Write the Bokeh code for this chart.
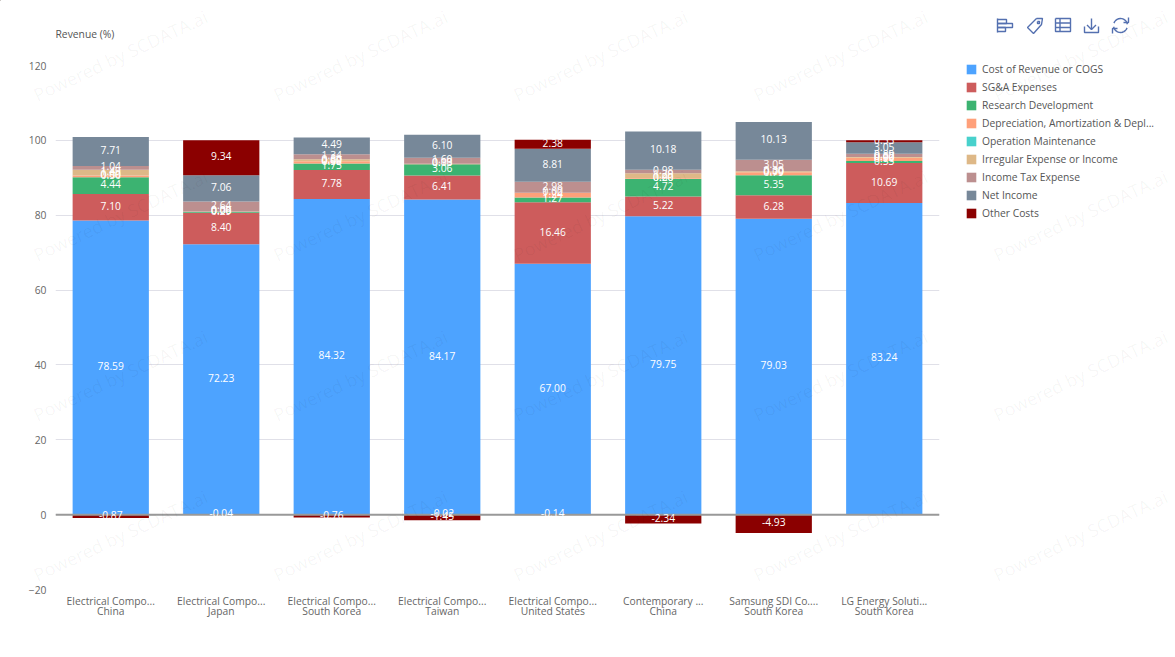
import numpy as np
from bokeh.plotting import figure
from bokeh.layouts import column
from bokeh.models import FactorRange, Range1d, FixedTicker, Span, Legend, LegendItem
from bokeh.core.properties import value
from bokeh.embed import file_html
from bokeh.resources import INLINE

FONT = "Open Sans"
companies = ["Electrical Compo...\nChina", "Electrical Compo...\nJapan", "Electrical Compo...\nSouth Korea",
             "Electrical Compo...\nTaiwan", "Electrical Compo...\nUnited States", "Contemporary ...\nChina",
             "Samsung SDI Co....\nSouth Korea", "LG Energy Soluti...\nSouth Korea"]
series_names = ["Cost of Revenue or COGS", "SG&A Expenses", "Research Development",
                "Depreciation, Amortization & Depl...", "Operation Maintenance",
                "Irregular Expense or Income", "Income Tax Expense", "Net Income", "Other Costs"]
colors = ["#4DA3FF", "#CD5C5C", "#3CB371", "#FFA07A", "#48D1CC", "#DEB887", "#BC8F8F", "#778899", "#8B0000"]
cogs = [78.59, 72.23, 84.32, 84.17, 67.00, 79.75, 79.03, 83.24]
sga = [7.10, 8.40, 7.78, 6.41, 16.46, 5.22, 6.28, 10.69]
rnd = [4.44, 0.29, 1.75, 3.06, 1.27, 4.72, 5.35, 0.53]
dna = [0.50, 0.08, 0.58, 0.13, 1.24, 0.20, 0.79, 0.90]
opm = [0.00, 0.00, 0.00, 0.00, 0.00, 0.00, 0.00, 0.00]
irr = [1.49, -0.04, 0.50, -0.02, -0.14, 1.29, 0.30, 0.17]
tax = [1.04, 2.64, 1.34, 1.60, 2.98, 0.98, 3.05, 0.89]
net = [7.71, 7.06, 4.49, 6.10, 8.81, 10.18, 10.13, 3.05]
oth = [-0.87, 9.34, -0.76, -1.45, 2.38, -2.34, -4.93, 0.53]
series = [cogs, sga, rnd, dna, opm, irr, tax, net, oth]
y_ticks = [-20, 0, 20, 40, 60, 80, 100, 120]

W, H = 1175, 657
p = figure(width=W, height=H, output_backend="svg", toolbar_location=None,
           x_range=FactorRange(factors=companies, range_padding=0), y_range=Range1d(-20, 120),
           min_border_left=55, min_border_right=W - 939, min_border_top=65, min_border_bottom=H - 589)
p.frame_align = False
p.outline_line_color = None
p.xgrid.grid_line_color = None
p.ygrid.grid_line_color = "#E0E0E8"
p.yaxis.ticker = FixedTicker(ticks=y_ticks)
for ax in (p.xaxis[0], p.yaxis[0]):
    ax.axis_line_color = None
    ax.major_tick_line_color = None
    ax.minor_tick_line_color = None
    ax.major_label_text_color = "#666666"
    ax.major_label_text_font = FONT
    ax.major_label_text_font_size = "10.3px"
p.yaxis.major_label_standoff = 3
p.xaxis.major_label_standoff = -2
p.xaxis.major_label_text_line_height = 0.75

pos = np.zeros(len(companies))
neg = np.zeros(len(companies))
lx, ly, lt = [], [], []
for name, vals, col in zip(series_names, series, colors):
    v = np.array(vals, dtype=float)
    base = np.where(v >= 0, pos, neg)
    top = base + v
    p.vbar(x=companies, bottom=base, top=top, width=0.69, fill_color=col, line_color=None)
    lx += companies
    ly += list((base + top) / 2)
    lt += [f"{x:.2f}" for x in vals]
    pos = np.where(v >= 0, top, pos)
    neg = np.where(v < 0, top, neg)

p.add_layout(Span(location=0, dimension="width", line_color="#999999", line_width=2, level="glyph"))
p.text(x=lx, y=ly, text=lt, y_offset=-1.5, text_color="white", text_align="center", text_baseline="middle",
       text_font=value(FONT), text_font_size="10.3px", level="overlay")

# transparent sheet over the whole page: unit title, legend, toolbox icons, watermark
o = figure(width=W, height=H, output_backend="svg", toolbar_location=None,
           x_range=Range1d(0, W), y_range=Range1d(H, 0), min_border=0,
           background_fill_alpha=0, border_fill_alpha=0, outline_line_color=None,
           x_axis_type=None, y_axis_type=None,
           styles={"position": "absolute", "top": "0px", "left": "0px", "z-index": "5", "pointer-events": "none"})
o.frame_align = False
o.grid.visible = False

items = []
for name, col in zip(series_names, colors):
    # legend proxy, lying off the sheet
    r = o.vbar(x=[-50], bottom=[-50], top=[-40], width=1, fill_color=col, line_color=None)
    items.append(LegendItem(label=name, renderers=[r]))
legend = Legend(items=items, location=(965, H - 220), orientation="vertical",
                background_fill_alpha=0, border_line_color=None, margin=0, padding=0,
                spacing=4, glyph_width=12, glyph_height=12, label_standoff=5,
                label_text_font=FONT, label_text_font_size="10.3px", label_text_color="#555555",
                label_height=12)
o.add_layout(legend, "center")

o.text(x=[55], y=[33], text=["Revenue (%)"], text_font=value(FONT), text_font_size="10.3px",
       text_color="#555555", text_baseline="middle")

wx, wy = [], []
for cy in [55, 215, 375, 535]:
    for cx in [120, 360, 600, 840, 1080]:
        wx.append(cx)
        wy.append(cy)
o.text(x=wx, y=wy, text=["Powered by SCDATA.ai"] * len(wx), angle=25, angle_units="deg",
       text_align="center", text_baseline="middle", text_font=value(FONT),
       text_font_size="18px", text_color="#000000", text_alpha=0.045)

ICON = "#5470B0"
icon_paths = [
    # bars
    [(997, 18), (997, 32)],
    [(997, 19), (1006, 19), (1006, 23), (997, 23)],
    [(997, 23), (1012, 23), (1012, 27), (997, 27)],
    [(997, 27), (1005, 27), (1005, 31), (997, 31)],
    # tag
    [(1036, 18), (1042, 18), (1041, 24), (1033, 33), (1027, 27), (1036, 18)],
    [(1037, 21), (1039, 21), (1039, 23), (1037, 23), (1037, 21)],
    # table
    [(1055, 18), (1070, 18), (1070, 31), (1055, 31), (1055, 18)],
    [(1055, 22.5), (1070, 22.5)],
    [(1055, 27), (1070, 27)],
    [(1059.5, 18), (1059.5, 31)],
    # download
    [(1084, 26), (1084, 32), (1098, 32), (1098, 26)],
    [(1091, 18), (1091, 29)],
    [(1086.5, 24.5), (1091, 29), (1095.5, 24.5)],
    # refresh
    [(1120 + 7 * np.cos(a), 25 + 7 * np.sin(a)) for a in np.radians(np.linspace(200, 350, 12))],
    [(1120 + 7 * np.cos(a), 25 + 7 * np.sin(a)) for a in np.radians(np.linspace(20, 170, 12))],
    [(1123, 22), (1128, 22), (1128, 17)],
    [(1117, 28), (1112, 28), (1112, 33)],
]
o.multi_line(xs=[[a for a, b in q] for q in icon_paths], ys=[[b for a, b in q] for q in icon_paths],
             line_color=ICON, line_width=1.4)

open("out.html", "w").write(file_html(column(p, o), INLINE))
